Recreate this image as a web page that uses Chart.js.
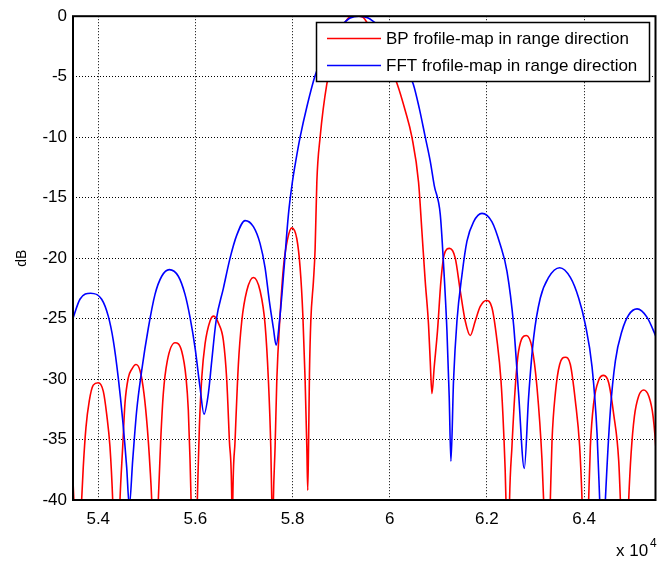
<!DOCTYPE html>
<html>
<head>
<meta charset="utf-8">
<script src="https://cdn.jsdelivr.net/npm/chart.js@4.4.1/dist/chart.umd.min.js"></script>
<style>
    html, body { margin: 0; padding: 0; background: #fff; }
    #wrap { position: relative; width: 657px; height: 562px; }
</style>
</head>
<body>
<div id="wrap"><canvas id="grafico" width="657" height="562"></canvas></div>
<script>
// ticks del eje (rango en unidades reales, se muestran x 10^4)
const xTicks = [54000, 56000, 58000, 60000, 62000, 64000];
const yTicks = [0, -5, -10, -15, -20, -25, -30, -35, -40];

const bpLabel = 'BP frofile-map in range direction';
const fftLabel = 'FFT frofile-map in range direction';

// BP (rojo)
const bpX = [53473, 53520, 53582, 53658, 53691, 53747, 53815, 53897, 54000, 54103, 54173, 54241, 54297, 54371, 54447,
    54503, 54550, 54618, 54688, 54777, 54859, 54941, 55009, 55065, 55100, 55168, 55236, 55285, 55339, 55421, 55580,
    55718, 55807, 55854, 55889, 55910, 55971, 56039, 56081, 56130, 56198, 56301, 56377, 56476, 56575, 56645, 56699,
    56748, 56758, 56769, 56816, 56884, 56954, 57057, 57193, 57331, 57434, 57502, 57551, 57572, 57589, 57605, 57640,
    57675, 57743, 57811, 57893, 57984, 58087, 58155, 58211, 58258, 58293, 58312, 58330, 58347, 58375, 58429, 58464,
    58499, 58567, 58705, 58856, 59041, 59226, 59350, 59453, 59558, 59700, 59906, 60153, 60318, 60456, 60592, 60662,
    60730, 60798, 60833, 60868, 60915, 60983, 61053, 61121, 61231, 61348, 61451, 61554, 61657, 61760, 61863, 61987,
    62104, 62207, 62289, 62343, 62392, 62429, 62466, 62515, 62583, 62652, 62811, 62928, 63031, 63134, 63167, 63237,
    63305, 63340, 63408, 63497, 63614, 63717, 63820, 63909, 63958, 64026, 64094, 64129, 64197, 64300, 64403, 64506,
    64609, 64712, 64747, 64829, 64918, 64967, 65035, 65124, 65227, 65330, 65421, 65489, 65530];
const bpY = [-37.8, -42, -48, -40, -37.3, -34.0, -31.8, -30.5, -30.3, -31.0, -32.9, -35.6, -40, -50, -40,
    -35.6, -32.0, -29.9, -29.2, -28.8, -29.3, -31.2, -34.0, -37.3, -40, -50, -40, -35.1, -31.2, -28.5, -27.0,
    -27.7, -29.9, -32.6, -36.7, -40, -50, -40, -34.0, -29.9, -27.1, -25.2, -24.8, -25.4, -26.8, -30.1, -35.1,
    -40, -45, -40, -35.1, -28.8, -25.2, -22.7, -21.6, -22.7, -25.5, -30.1, -35.6, -40, -45, -40, -35.6,
    -30.1, -24.7, -20.8, -18.5, -17.5, -18.4, -20.8, -24.7, -30.1, -35.6, -39.2, -35, -29.6, -25.2, -21.9, -19.2,
    -13.7, -10, -5.6, -3, -0.8, 0, 0, -0.1, -0.7, -1.6, -3.2, -5.6, -7.8, -10, -13.7, -17.8,
    -21.9, -25.5, -28.5, -31.2, -29.0, -26.0, -21.9, -19.7, -19.2, -20.0, -22.7, -25.2, -26.4, -25.2, -24.0, -23.5,
    -24.1, -26.8, -30.1, -34.2, -40, -50, -40, -35.6, -30.7, -27.7, -26.4, -27.4, -30.7, -36.7, -40, -50,
    -40, -35.1, -31.2, -28.8, -28.2, -28.8, -31.8, -35.6, -40, -50, -40, -35.6, -32.0, -30.1, -29.7, -30.3,
    -32.9, -36.7, -40, -50, -40, -36.2, -33.1, -31.4, -30.9, -31.4, -33.1, -36.4, -40];

// FFT (azul)
const fftX = [53470, 53623, 53843, 54070, 54206, 54309, 54412, 54503, 54585, 54639, 54709, 54791, 54894, 55030, 55168,
    55306, 55463, 55648, 55786, 55889, 55992, 56095, 56177, 56266, 56336, 56425, 56575, 56713, 56851, 57022, 57193,
    57331, 57434, 57523, 57605, 57661, 57743, 57825, 57914, 57996, 58073, 58155, 58299, 58464, 58670, 58835, 59020,
    59185, 59370, 59556, 59721, 59844, 60009, 60174, 60318, 60483, 60607, 60731, 60834, 60916, 61040, 61107, 61177,
    61224, 61259, 61313, 61383, 61486, 61589, 61725, 61898, 62104, 62275, 62413, 62549, 62652, 62769, 62858, 62961,
    63099, 63270, 63497, 63717, 63888, 64026, 64164, 64267, 64321, 64376, 64438, 64541, 64644, 64782, 64918, 65091,
    65297, 65503];
const fftY = [-25.1, -23.4, -22.9, -23.4, -24.8, -26.8, -29.9, -33.4, -37.3, -40.5, -36.7, -32.6, -29.3, -25.8, -23.0,
    -21.5, -20.95, -21.5, -23.0, -24.9, -27.4, -30.7, -32.9, -31.2, -28.5, -25.2, -22.5, -20.0, -18.1, -16.9, -17.4,
    -18.8, -20.8, -23.6, -25.8, -27.2, -24.7, -20.8, -16.4, -13.7, -11.8, -10, -7.4, -4.9, -2.8, -1.6, -0.7,
    -0.15, 0, -0.15, -0.6, -0.8, -1.8, -2.9, -4.2, -5.6, -7.6, -10, -12, -14.0, -16.4, -20.5, -26.0,
    -31.5, -36.8, -30.1, -25.2, -21.4, -18.6, -17.0, -16.3, -17.0, -18.9, -21.1, -25.5, -31.2, -37.4, -31.5, -26.6,
    -23.3, -21.6, -20.8, -21.6, -23.3, -25.5, -29.0, -34.5, -40, -46, -40, -32.6, -28.5, -26.0, -24.7, -24.2,
    -24.9, -26.7];

const FUENTE = "'Liberation Sans', Arial, Helvetica, sans-serif";

function puntos(xs, ys) {
    return xs.map((x, i) => ({ x: x, y: ys[i] }));
}

// marco negro + leyenda + "x 10^4"
const extras = {
    id: 'extras',
    afterDatasetsDraw(chart) {
        const ctx = chart.ctx;
        const a = chart.chartArea;
        ctx.save();
        ctx.strokeStyle = '#000';
        ctx.lineWidth = 2;
        ctx.strokeRect(a.left, a.top, a.right - a.left, a.bottom - a.top);

        // leyenda
        const lx = 316.5, ly = 22.5, lw = 333, lh = 59;
        ctx.fillStyle = '#fff';
        ctx.fillRect(lx, ly, lw, lh);
        ctx.lineWidth = 1.5;
        ctx.strokeRect(lx, ly, lw, lh);
        const items = [[bpLabel, '#ff0000', 38.5], [fftLabel, '#0000ff', 65.5]];
        ctx.font = '17px ' + FUENTE;
        ctx.textBaseline = 'middle';
        ctx.textAlign = 'left';
        items.forEach(([txt, col, y]) => {
            ctx.strokeStyle = col;
            ctx.lineWidth = 1.5;
            ctx.beginPath();
            ctx.moveTo(327, y);
            ctx.lineTo(381, y);
            ctx.stroke();
            ctx.fillStyle = '#000';
            ctx.fillText(txt, 386, y + 1);
        });

        // multiplicador del eje x
        ctx.font = '17px ' + FUENTE;
        ctx.textBaseline = 'alphabetic';
        ctx.fillText('x 10', 616, 556);
        ctx.font = '12px ' + FUENTE;
        ctx.fillText('4', 650, 547);
        ctx.restore();
    }
};

new Chart(document.getElementById('grafico'), {
    type: 'line',
    data: {
        datasets: [
            { label: bpLabel, data: puntos(bpX, bpY), borderColor: '#ff0000', borderWidth: 1.6, pointRadius: 0, cubicInterpolationMode: 'monotone', order: 1 },
            { label: fftLabel, data: puntos(fftX, fftY), borderColor: '#0000ff', borderWidth: 1.6, pointRadius: 0, cubicInterpolationMode: 'monotone', order: 0 }
        ]
    },
    options: {
        responsive: false,
        animation: false,
        events: [],
        layout: { padding: { left: 0, top: 13, right: 1.5, bottom: 0 } },
        plugins: { legend: { display: false }, tooltip: { enabled: false } },
        scales: {
            x: {
                type: 'linear',
                min: 53480,
                max: 65470,
                afterBuildTicks: s => { s.ticks = xTicks.map(v => ({ value: v })); },
                afterFit: s => { s.height = 62; },
                grid: { color: '#000', lineWidth: 1, drawTicks: false },
                border: { display: false, dash: [1, 2] },
                ticks: {
                    color: '#000',
                    padding: 9,
                    maxRotation: 0,
                    font: { family: FUENTE, size: 17 },
                    callback: v => String(+(v / 10000).toFixed(1))
                }
            },
            y: {
                min: -40,
                max: 0,
                afterBuildTicks: s => { s.ticks = yTicks.map(v => ({ value: v })); },
                afterFit: s => { s.width = 73; },
                grid: { color: '#000', lineWidth: 1, drawTicks: false },
                border: { display: false, dash: [1, 2] },
                ticks: {
                    color: '#000',
                    padding: 6,
                    font: { family: FUENTE, size: 17 },
                    callback: v => String(v)
                },
                title: {
                    display: true,
                    text: 'dB',
                    color: '#000',
                    padding: { top: 14, bottom: 0 },
                    font: { family: FUENTE, size: 14 }
                }
            }
        }
    },
    plugins: [extras]
});
</script>
</body>
</html>
